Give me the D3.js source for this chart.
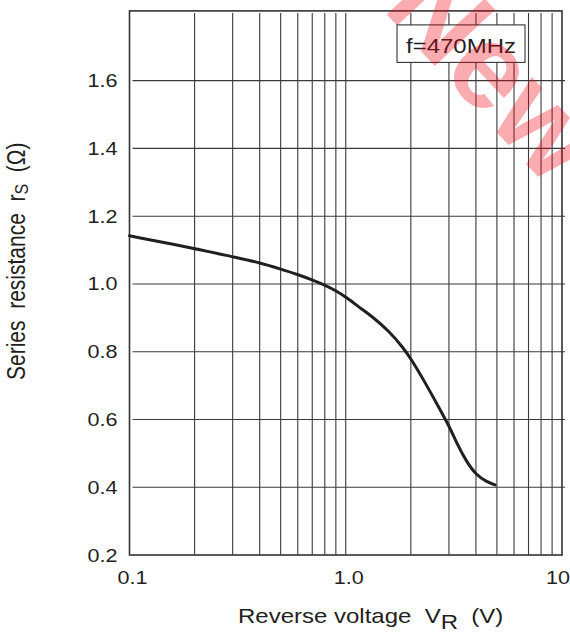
<!DOCTYPE html>
<html>
<head>
<meta charset="utf-8">
<script src="https://cdn.jsdelivr.net/npm/d3@7"></script>
<style>
  body { margin: 0; background: #fff; }
  text { font-family: "Liberation Sans", Arial, Helvetica, sans-serif; fill: #231f20; }
</style>
</head>
<body>
<div class="chart"></div>
<script>
// data
var voltage = [0.1, 0.2, 0.3, 0.4, 0.5, 0.6, 0.7, 0.8, 0.9, 1.0, 1.2, 1.3, 1.6, 1.85, 2.0, 2.3, 2.63, 3.0, 3.26, 3.62, 4.0, 4.48, 4.9];
var resistance = [1.142, 1.105, 1.08, 1.063, 1.044, 1.028, 1.012, 0.997, 0.98, 0.962, 0.923, 0.908, 0.859, 0.81, 0.78, 0.715, 0.648, 0.582, 0.53, 0.475, 0.437, 0.416, 0.407];

var xTicks = [0.1, 1, 10];
var xTickLabels = ["0.1", "1.0", "10"];
var xGrid = [0.2, 0.3, 0.4, 0.5, 0.6, 0.7, 0.8, 0.9, 1, 2, 3, 4, 5, 6, 7, 8, 9];
var yTicks = [0.2, 0.4, 0.6, 0.8, 1.0, 1.2, 1.4, 1.6];
var yGrid = [0.4, 0.6, 0.8, 1.0, 1.2, 1.4, 1.6];

var svgWidth = 570;
var svgHeight = 632;

var margin = {
  top: 12.9,
  right: 8,
  bottom: 77,
  left: 129.5
};

var width = svgWidth - margin.left - margin.right;
var height = svgHeight - margin.top - margin.bottom;

var svg = d3.select(".chart")
  .append("svg")
  .attr("width", svgWidth)
  .attr("height", svgHeight);

var chartGroup = svg.append("g")
  .attr("transform", `translate(${margin.left}, ${margin.top})`);

// scales
var xLogScale = d3.scaleLog()
  .domain([0.1, 10])
  .range([0, width]);

var yLinearScale = d3.scaleLinear()
  .domain([0.2, 1.8])
  .range([height, 0]);

// the reference picture is a bit stretched sideways
var stretch = 1.2;

// grid
chartGroup.selectAll(".vgrid")
  .data(xGrid)
  .enter()
  .append("line")
  .attr("class", "vgrid")
  .attr("x1", d => xLogScale(d))
  .attr("x2", d => xLogScale(d))
  .attr("y1", 0)
  .attr("y2", height)
  .attr("stroke", "#3a3a3a")
  .attr("stroke-width", 1.1);

chartGroup.selectAll(".hgrid")
  .data(yGrid)
  .enter()
  .append("line")
  .attr("class", "hgrid")
  .attr("x1", 3)
  .attr("x2", width + 3)
  .attr("y1", d => yLinearScale(d))
  .attr("y2", d => yLinearScale(d))
  .attr("stroke", "#3a3a3a")
  .attr("stroke-width", 1.1);

// frame
chartGroup.append("rect")
  .attr("x", 0)
  .attr("y", -2)
  .attr("width", width)
  .attr("height", height + 2)
  .attr("fill", "none")
  .attr("stroke", "#333")
  .attr("stroke-width", 1.6);

// curve
var line = d3.line()
  .x(d => xLogScale(d[0]))
  .y(d => yLinearScale(d[1]))
  .curve(d3.curveBasis);

chartGroup.append("path")
  .datum(voltage.map((v, i) => [v, resistance[i]]))
  .attr("d", line)
  .attr("fill", "none")
  .attr("stroke", "#231f20")
  .attr("stroke-width", 3)
  .attr("stroke-linecap", "round");

// tick labels
chartGroup.selectAll(".xlabel")
  .data(xTicks)
  .enter()
  .append("text")
  .attr("class", "xlabel")
  .attr("transform", d => `translate(${Math.min(xLogScale(d) + 3, width - 4)}, ${height + 29}) scale(${stretch}, 1)`)
  .attr("text-anchor", "middle")
  .attr("font-size", "18px")
  .text((d, i) => xTickLabels[i]);

chartGroup.selectAll(".ylabel")
  .data(yTicks)
  .enter()
  .append("text")
  .attr("class", "ylabel")
  .attr("transform", d => `translate(-12, ${yLinearScale(d) + 6.5}) scale(${stretch}, 1)`)
  .attr("text-anchor", "end")
  .attr("font-size", "18px")
  .text(d => d.toFixed(1));

// legend box
var box = chartGroup.append("g")
  .attr("transform", "translate(267.5, 12)");
box.append("rect")
  .attr("x", 0)
  .attr("y", 0)
  .attr("width", 128)
  .attr("height", 37.5)
  .attr("fill", "#fff")
  .attr("stroke", "#333")
  .attr("stroke-width", 1.1);
box.append("text")
  .attr("transform", `translate(64, 28.5) scale(${stretch}, 1)`)
  .attr("text-anchor", "middle")
  .attr("font-size", "20px")
  .text("f=470MHz");

// axes labels
var xTitle = svg.append("text")
  .attr("transform", `translate(238, 622.5) scale(${stretch}, 1)`)
  .attr("font-size", "20px")
  .attr("xml:space", "preserve");
xTitle.append("tspan").text("Reverse voltage  V");
xTitle.append("tspan").attr("dy", 6).text("R");
xTitle.append("tspan").attr("dy", -6).text("  (V)");

var yTitle = svg.append("text")
  .attr("transform", `translate(24.5, 380) rotate(-90) scale(1, ${stretch})`)
  .attr("font-size", "21px")
  .attr("xml:space", "preserve");
yTitle.append("tspan").text("Series  resistance  r");
yTitle.append("tspan").attr("dy", 3).attr("font-size", "16px").text("S");
yTitle.append("tspan").attr("dy", -3).text("  (\u03A9)");

// watermark
svg.append("text")
  .attr("transform", "translate(496, 70) rotate(47)")
  .attr("text-anchor", "middle")
  .attr("dominant-baseline", "central")
  .attr("font-size", "120px")
  .attr("font-weight", "bold")
  .style("fill", "#f0000f")
  .attr("opacity", 0.32)
  .text("New");
</script>
</body>
</html>
